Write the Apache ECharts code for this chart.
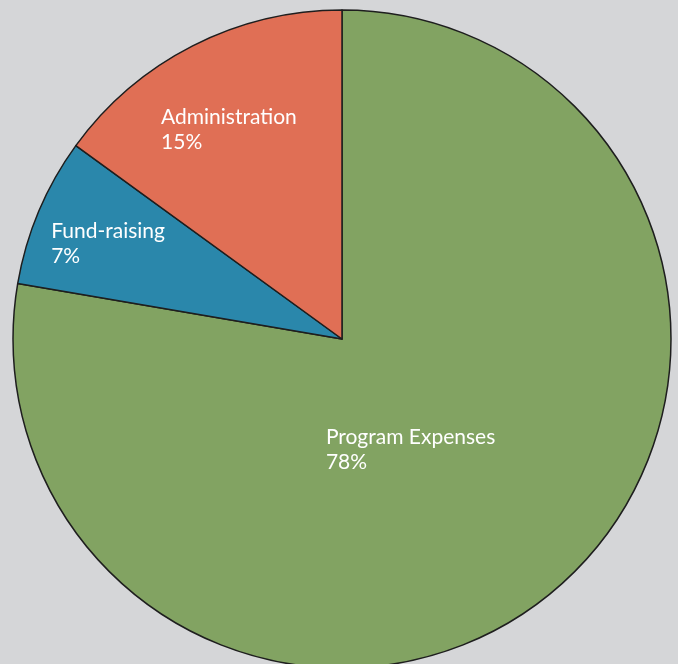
<!DOCTYPE html>
<html>
<head>
<meta charset="utf-8">
<script src="https://cdn.jsdelivr.net/npm/echarts@6/dist/echarts.min.js"></script>
<style>
html,body{margin:0;padding:0;background:#d5d6d8;}
#chart{width:678px;height:664px;}
</style>
</head>
<body>
<div id="chart"></div>
<script>
var categories = ['Program Expenses', 'Fund-raising', 'Administration'];
var values = [77.7, 7.3, 15.0];
var colors = ['#82a362', '#2a87ab', '#e06f55'];

// label anchor (top-left) relative to pie centre, as fractions of the radius
var labelAnchors = [[-0.049, 0.260], [-0.884, -0.366], [-0.550, -0.713]];

var CX = 342, CY = 339, R = 329;

var chart = echarts.init(document.getElementById('chart'));
chart.setOption({
  backgroundColor: '#d5d6d8',
  animation: false,
  series: [{
    type: 'pie',
    center: [CX, CY],
    radius: [0, R],
    startAngle: 90,
    clockwise: true,
    data: categories.map(function (c, i) {
      return { name: c, value: values[i], itemStyle: { color: colors[i] } };
    }),
    itemStyle: { borderColor: '#1e1e1e', borderWidth: 1.5 },
    emphasis: { disabled: true },
    label: {
      show: true,
      position: 'inside',
      formatter: function (p) { return p.name + '\n' + Math.round(p.percent) + '%'; },
      color: '#ffffff',
      fontFamily: 'Lato',
      fontSize: 21,
      lineHeight: 25,
      align: 'left'
    },
    labelLine: { show: false },
    labelLayout: function (params) {
      var a = labelAnchors[params.dataIndex];
      return {
        x: CX + a[0] * R,
        y: CY + a[1] * R,
        align: 'left',
        verticalAlign: 'top'
      };
    }
  }]
});
</script>
</body>
</html>
